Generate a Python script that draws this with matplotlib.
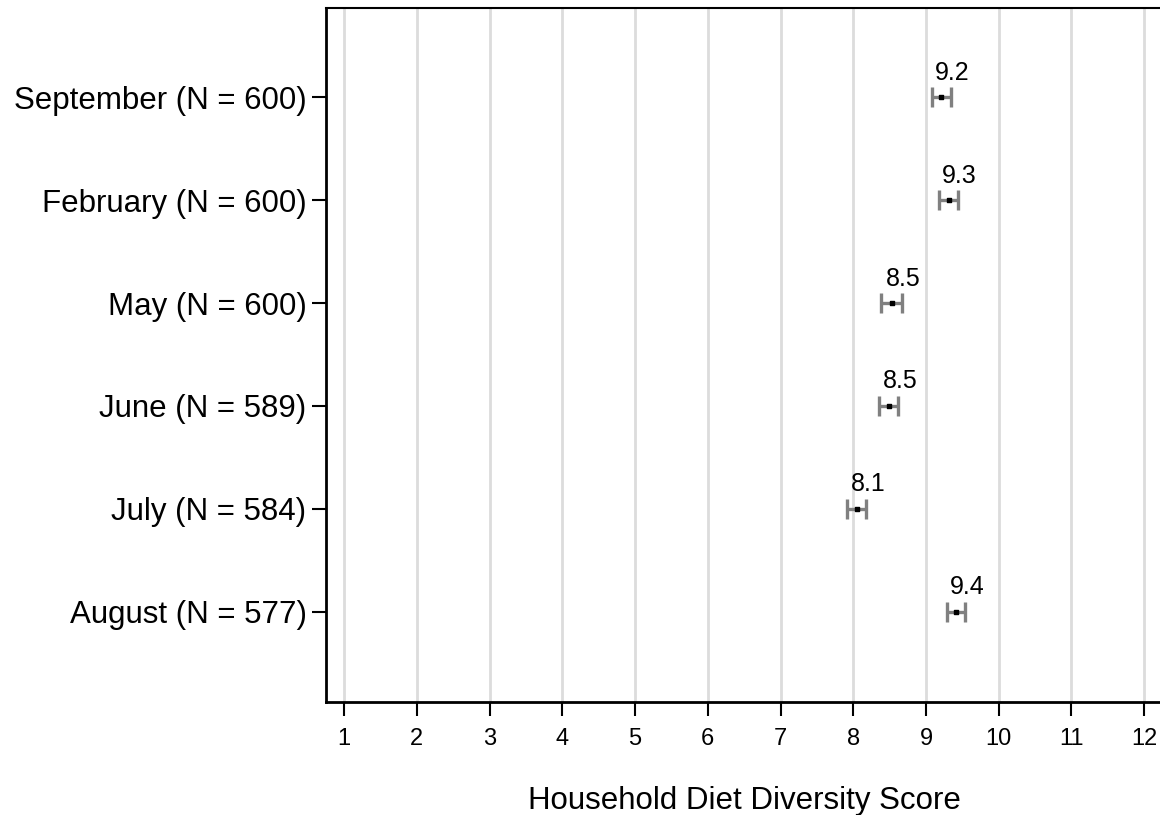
import matplotlib
matplotlib.use("Agg")
import matplotlib.pyplot as plt

categories = ["September (N = 600)", "February (N = 600)", "May (N = 600)",
              "June (N = 589)", "July (N = 584)", "August (N = 577)"]
means = [9.21, 9.31, 8.53, 8.49, 8.05, 9.41]
ci_half = [0.13, 0.125, 0.145, 0.13, 0.13, 0.125]
value_labels = ["9.2", "9.3", "8.5", "8.5", "8.1", "9.4"]
xticks = list(range(1, 13))

plt.rcParams['font.family'] = ['Liberation Sans', 'DejaVu Sans']

fig = plt.figure(figsize=(11.6, 8.15), dpi=100)
ax = fig.add_axes([326/1160, 1 - 702/815, 1 - 326/1160 + 0.002, (702 - 8)/815])

ypos = list(range(1, len(categories) + 1))
for x in xticks:
    ax.axvline(x, color="#dcdcdc", lw=2.0, zorder=0)

ax.errorbar(means, ypos, xerr=ci_half, fmt='none', ecolor="#808080",
            elinewidth=2.4, capsize=7, capthick=2.4, zorder=2)
ax.scatter(means, ypos, s=6, color="black", marker='s', zorder=3)
for m, y, lab in zip(means, ypos, value_labels):
    ax.annotate(lab, (m, y), xytext=(8, 9), textcoords='offset points',
                ha='center', va='bottom', fontsize=18, color='black')

ax.set_xlim(0.75, 12.25)
ax.set_ylim(6.88, 0.13)
ax.set_yticks(ypos)
ax.set_yticklabels(categories, fontsize=22.5)
ax.set_xticks(xticks)
ax.set_xticklabels([str(x) for x in xticks], fontsize=17)
ax.tick_params(axis='y', length=10, width=1.5, pad=4)
ax.tick_params(axis='x', length=10, width=1.5, pad=9)
ax.set_xlabel("Household Diet Diversity Score", fontsize=22.5, labelpad=26)

for s in ['left', 'bottom']:
    ax.spines[s].set_linewidth(2)
ax.spines['top'].set_linewidth(1.5)
ax.spines['right'].set_visible(False)

fig.savefig("out.png", dpi=100)
